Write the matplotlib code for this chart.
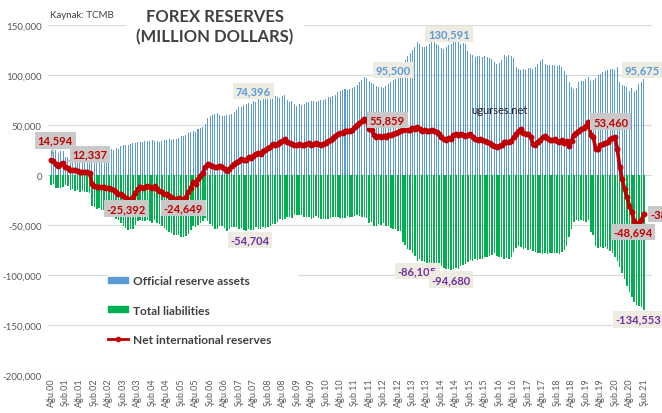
import numpy as np
import matplotlib.pyplot as plt
from matplotlib.patches import Patch, Rectangle
from matplotlib.lines import Line2D
from matplotlib.ticker import FuncFormatter

plt.rcParams['font.family'] = ['Lato', 'DejaVu Sans']

# === Dati mensili, Ağu.2000 - Şub.2021 (miliardi di USD, x1000 = milioni) ===
official_reserves = [
    25.0, 23.4, 24.8, 21.6, 23.9,                                                    # 2000
    24.5, 17.6, 18.3, 19.8, 18.6, 20.2, 19.4, 20.1, 19.0, 20.3, 19.6, 20.4,          # 2001
    21.5, 21.0, 22.0, 21.6, 22.5, 23.4, 24.0, 24.6, 25.8, 25.4, 26.8, 26.5,          # 2002
    28.9, 29.8, 30.5, 29.7, 30.8, 31.6, 32.0, 32.9, 33.5, 33.0, 33.8, 33.6,          # 2003
    34.2, 34.9, 33.6, 34.5, 33.2, 34.0, 34.8, 35.3, 35.9, 35.1, 36.4, 36.0,          # 2004
    37.2, 38.6, 39.4, 40.1, 41.8, 42.9, 44.0, 43.5, 45.8, 46.6, 48.2, 50.6,          # 2005
    56.8, 59.2, 60.4, 61.3, 62.1, 60.2, 58.7, 59.0, 59.8, 60.4, 61.2, 63.1,          # 2006
    64.9, 67.8, 68.4, 69.7, 71.3, 72.0, 71.5, 74.396, 73.5, 75.8, 75.4, 76.4,        # 2007
    77.6, 78.9, 79.6, 80.3, 79.1, 78.4, 77.2, 78.7, 79.9, 75.2, 73.5, 73.7,          # 2008
    70.6, 69.4, 71.0, 70.2, 71.5, 72.6, 73.4, 74.2, 73.6, 72.8, 74.0, 74.9,          # 2009
    75.3, 76.0, 77.6, 78.4, 79.3, 80.5, 82.8, 84.2, 85.0, 86.3, 85.4, 86.0,          # 2010
    86.8, 88.4, 90.3, 92.6, 95.4, 98.2, 97.0, 94.5, 92.3, 90.6, 89.1, 88.2,          # 2011
    88.0, 87.2, 89.5, 91.2, 93.0, 95.5, 96.4, 98.6, 100.2, 112.4, 115.3, 119.2,      # 2012
    122.0, 125.1, 128.4, 133.2, 130.6, 128.5, 127.9, 128.6, 130.8, 132.6, 133.1, 131.4,  # 2013
    129.8, 127.0, 126.5, 128.1, 129.9, 130.591, 132.9, 133.3, 132.6, 131.4, 132.2, 130.9,  # 2014
    124.0, 120.8, 120.2, 118.3, 119.4, 118.9, 118.1, 119.0, 117.6, 117.3, 116.2, 112.8,  # 2015
    111.5, 112.3, 114.8, 119.6, 118.4, 120.1, 118.9, 117.5, 108.2, 106.0, 104.9, 106.1,  # 2016
    104.8, 106.9, 107.4, 106.2, 107.9, 111.3, 113.6, 115.8, 110.9, 110.2, 109.6, 110.4,  # 2017
    110.1, 109.4, 109.8, 108.3, 104.5, 99.8, 93.5, 88.2, 86.4, 87.5, 92.6, 93.9,     # 2018
    94.0, 95.9, 97.6, 93.8, 95.1, 97.3, 99.8, 101.2, 102.9, 104.1, 105.0, 105.6,     # 2019
    106.3, 104.7, 107.9, 93.1, 90.4, 89.2, 88.5, 84.1, 86.9, 83.2, 84.7, 90.8,       # 2020
    92.6, 95.675,                                                                    # 2021
]

total_liabilities = [
    -10.4, -9.3, -13.3, -12.9, -12.9,
    -12.2, -9.9, -11.1, -14.5, -13.6, -15.6, -15.4, -16.9, -16.2, -16.8, -16.9, -18.2,
    -30.5, -32.2, -33.8, -33.1, -34.8, -35.4, -37.1, -37.2, -39.8, -40.6, -43.9, -45.1,
    -47.9, -50.8, -53.3, -55.1, -54.3, -53.6, -50.0, -46.4, -45.0, -45.6, -46.0, -44.9,
    -46.0, -47.8, -45.0, -48.1, -49.2, -51.2, -53.3, -54.6, -56.9, -57.5, -59.9, -59.9,
    -60.4, -61.8, -62.3, -60.5, -58.8, -55.4, -51.2, -52.0, -49.8, -47.6, -45.7, -42.6,
    -45.6, -49.2, -51.3, -53.5, -53.7, -50.7, -50.6, -52.7, -55.6, -54.4, -52.3, -51.6,
    -51.9, -54.0, -52.8, -54.8, -55.9, -54.4, -54.704, -54.9, -52.2, -53.8, -54.0, -52.4,
    -53.0, -52.1, -51.2, -49.4, -49.4, -46.9, -44.2, -44.6, -44.1, -41.7, -41.5, -42.9,
    -40.4, -39.8, -40.0, -39.8, -41.7, -41.7, -41.8, -43.9, -42.9, -40.8, -42.8, -44.4,
    -43.9, -43.8, -43.6, -43.1, -42.1, -41.7, -41.8, -42.6, -42.5, -42.5, -40.9, -41.8,
    -41.5, -40.5, -40.1, -40.5, -41.6, -42.3, -43.0, -48.3, -47.3, -50.5, -50.9, -49.3,
    -50.0, -48.1, -51.0, -51.4, -52.6, -54.0, -54.3, -55.8, -55.9, -67.3, -69.7, -74.2,
    -74.8, -77.6, -80.9, -86.105, -84.2, -85.7, -87.4, -88.9, -87.6, -89.8, -90.9, -91.5,
    -92.3, -91.4, -93.0, -93.8, -94.2, -94.680, -93.9, -92.8, -93.5, -91.2, -90.1, -88.5,
    -86.7, -84.5, -86.2, -83.9, -85.1, -83.6, -84.0, -82.3, -81.5, -80.8, -79.6, -78.4,
    -80.9, -81.6, -82.4, -83.5, -82.8, -83.9, -82.1, -77.3, -72.6, -71.4, -72.3, -73.8,
    -73.2, -74.5, -73.8, -75.9, -77.4, -78.2, -77.6, -78.8, -77.9, -79.1, -78.3, -77.6,
    -78.4, -77.5, -78.6, -77.2, -75.1, -71.4, -62.3, -53.8, -47.2, -45.1, -46.3, -44.8,
    -45.6, -46.8, -44.9, -57.3, -59.8, -71.2, -72.5, -71.8, -73.1, -72.4, -73.6, -76.2,
    -77.9, -82.4, -86.1, -91.5, -98.3, -104.2, -110.6, -117.2, -122.4, -126.8, -129.5, -131.2,
    -132.4, -134.553,
]

net_reserves = [
    14.594, 14.1, 11.5, 8.7, 11.0,
    12.337, 7.7, 7.2, 5.3, 5.0, 4.6, 4.0, 3.2, 2.8, 3.5, 2.7, 2.2,
    -9.0, -11.2, -11.8, -11.5, -12.3, -12.0, -13.1, -12.6, -14.0, -15.2, -17.1, -18.6,
    -19.0, -21.0, -22.8, -25.392, -23.5, -22.0, -18.0, -13.5, -11.5, -12.6, -12.2, -11.3,
    -11.8, -12.9, -11.4, -13.6, -16.0, -17.2, -18.5, -19.3, -21.0, -22.4, -23.5, -23.9,
    -23.2, -23.8, -24.649, -22.0, -17.0, -12.5, -7.2, -8.5, -4.0, -1.0, 2.5, 8.0,
    11.2, 10.0, 9.1, 7.8, 8.4, 9.5, 8.1, 6.3, 4.2, 6.0, 8.9, 11.5,
    13.0, 13.8, 15.6, 14.9, 15.4, 17.6, 16.8, 19.5, 21.3, 22.0, 21.4, 24.0,
    24.6, 26.8, 28.4, 30.9, 29.7, 31.5, 33.0, 34.1, 35.8, 33.5, 32.0, 30.8,
    30.2, 29.6, 31.0, 30.4, 29.8, 30.9, 31.6, 30.3, 30.7, 32.0, 31.2, 30.5,
    31.4, 32.2, 34.0, 35.3, 37.2, 38.8, 41.0, 41.6, 42.5, 43.8, 44.5, 44.2,
    45.3, 47.9, 50.2, 52.1, 53.8, 55.859, 54.0, 46.2, 45.0, 40.1, 38.2, 38.9,
    38.0, 39.1, 38.5, 39.8, 40.4, 41.5, 42.1, 42.8, 44.3, 45.1, 45.6, 45.0,
    45.4, 46.6, 45.9, 48.3, 46.0, 44.2, 44.8, 43.6, 44.5, 45.0, 44.1, 43.2,
    41.5, 38.4, 35.6, 35.2, 37.4, 35.911, 39.6, 40.8, 40.2, 41.1, 40.3, 39.5,
    40.3, 41.0, 38.2, 36.0, 35.4, 36.2, 34.8, 34.0, 33.1, 31.6, 30.2, 29.0,
    28.4, 28.9, 30.1, 32.8, 33.4, 32.6, 34.5, 37.9, 41.3, 44.2, 46.1, 42.4,
    41.5, 41.0, 38.4, 31.0, 30.4, 33.5, 35.2, 37.6, 39.3, 37.4, 35.5, 34.8,
    35.6, 34.1, 33.2, 35.0, 32.5, 33.8, 29.2, 34.0, 40.2, 42.1, 44.5, 45.8,
    47.2, 49.0, 53.460, 40.5, 38.1, 26.5, 25.8, 30.2, 31.4, 32.0, 33.3, 35.6,
    37.0, 38.4, 26.0, 8.0, -4.0, -14.0, -22.0, -30.5, -37.2, -46.0, -48.694, -48.2,
    -45.0, -38.860,
]

first_year, first_month = 2000, 8
month_abbr = {2: "Şub", 8: "Ağu"}
series_names = ["Official reserve assets", "Total liabilities", "Net international reserves"]

# === Preparazione ===
official = np.array(official_reserves) * 1000
liabilities = np.array(total_liabilities) * 1000
net = np.array(net_reserves) * 1000
months = np.arange(len(official))

tick_pos = months[::6]
tick_labels = []
for m in tick_pos:
    mm = (first_month - 1 + m) % 12 + 1
    yy = first_year + (first_month - 1 + m) // 12
    tick_labels.append(f"{month_abbr[mm]}.{yy % 100:02d}")

BLUE = "#5b9bd5"
GREEN = "#00b050"
RED = "#c00000"
PURPLE = "#7030a0"

fig = plt.figure(figsize=(6.62, 4.14), dpi=100)
ax = fig.add_axes([48 / 662, 1 - 376 / 414, 604 / 662, 350 / 414])

ax.bar(months, official, width=0.42, color=BLUE, linewidth=0, zorder=2)
ax.bar(months, liabilities, width=0.62, color=GREEN, linewidth=0, zorder=2)
ax.plot(months, net, color=RED, lw=2.6, marker="o", ms=3.2, zorder=4)

ax.set_xlim(-1.25, 249.4)
ax.set_ylim(-200000, 150000)
ax.set_yticks(np.arange(-200000, 150001, 50000))
ax.yaxis.set_major_formatter(FuncFormatter(lambda v, p: f"{v:,.0f}"))
ax.set_xticks(tick_pos)
ax.set_xticklabels(tick_labels, rotation=90)
ax.tick_params(axis="y", length=0, pad=4.5, labelsize=7, labelcolor="#595959")
ax.tick_params(axis="x", length=0, pad=1.5, labelsize=6.5, labelcolor="#595959")
ax.yaxis.grid(True, color="#d9d9d9", lw=0.9)
ax.set_axisbelow(True)
for s in ax.spines.values():
    s.set_visible(False)

# pezzo bianco dietro la legenda
ax.add_patch(Rectangle((23.6, -103000), 79, 6000, fc="white", ec="none", zorder=1))

handles = [Patch(color=BLUE), Patch(color=GREEN),
           Line2D([], [], color=RED, lw=2, marker="o", ms=3)]
leg = ax.legend(handles, series_names, loc="upper left",
                bbox_to_anchor=((108 - 48) / 604, (376 - 276) / 350),
                frameon=False, prop={"weight": "bold", "size": 8.6},
                labelspacing=1.55, handlelength=1.65, handleheight=0.35,
                handletextpad=0.45, borderpad=0, borderaxespad=0)
for t in leg.get_texts():
    t.set_color("#404040")

# === Etichette dati ===
def label(idx, values, color, fc, dx, dy, ha="center", leader=False):
    v = values[idx]
    kw = {}
    if leader:
        kw["arrowprops"] = dict(arrowstyle="-", color="#a6a6a6", lw=0.8, shrinkA=0, shrinkB=2)
    ax.annotate(f"{v:,.0f}", xy=(idx, v), xytext=(dx, dy), textcoords="offset points",
                ha=ha, va="center", fontsize=8, fontweight="bold", color=color, zorder=6,
                bbox=dict(boxstyle="square,pad=0.25", fc=fc, ec="none"), **kw)

GRAY_BOX = "#c9c9c9"
BEIGE = "#eeece1"
label(0, net, RED, GRAY_BOX, 3, 14.5, leader=True)
label(5, net, RED, GRAY_BOX, 19.5, 6, leader=True)
label(32, net, RED, GRAY_BOX, -1.5, -6)
label(55, net, RED, GRAY_BOX, 0, -6)
label(130, net, RED, GRAY_BOX, 16.5, -0.5)
label(223, net, RED, GRAY_BOX, 16, 0)
label(243, net, RED, GRAY_BOX, -2.6, -6)
label(246, net, RED, GRAY_BOX, 5.0, 0, ha="left")
label(84, official, BLUE, BEIGE, 0, 7)
label(142, official, BLUE, BEIGE, 0, 7)
label(166, official, BLUE, BEIGE, -1.4, 7.5)
label(246, official, BLUE, BEIGE, -1.0, 6.7)
label(83, liabilities, PURPLE, BEIGE, -0.7, -7.4)
label(152, liabilities, PURPLE, BEIGE, 0, -7)
label(166, liabilities, PURPLE, BEIGE, 0, -7)
label(246, liabilities, PURPLE, BEIGE, -4.0, -7)

ax.text(0.747, 0.76, "ugurses.net", transform=ax.transAxes, ha="center", va="center",
        fontsize=8, color="#262626", zorder=5)

fig.text(50 / 662, 1 - 16 / 414, "Kaynak: TCMB", fontsize=7, color="#404040", va="center")
fig.text(215 / 662, 1 - 27 / 414, "FOREX RESERVES\n(MILLION DOLLARS)", ha="center", va="center",
         fontsize=12, fontweight="bold", color="#404040", linespacing=1.25,
         bbox=dict(boxstyle="square,pad=0.6", fc="white", ec="none"))

fig.savefig("out.png", dpi=100)
